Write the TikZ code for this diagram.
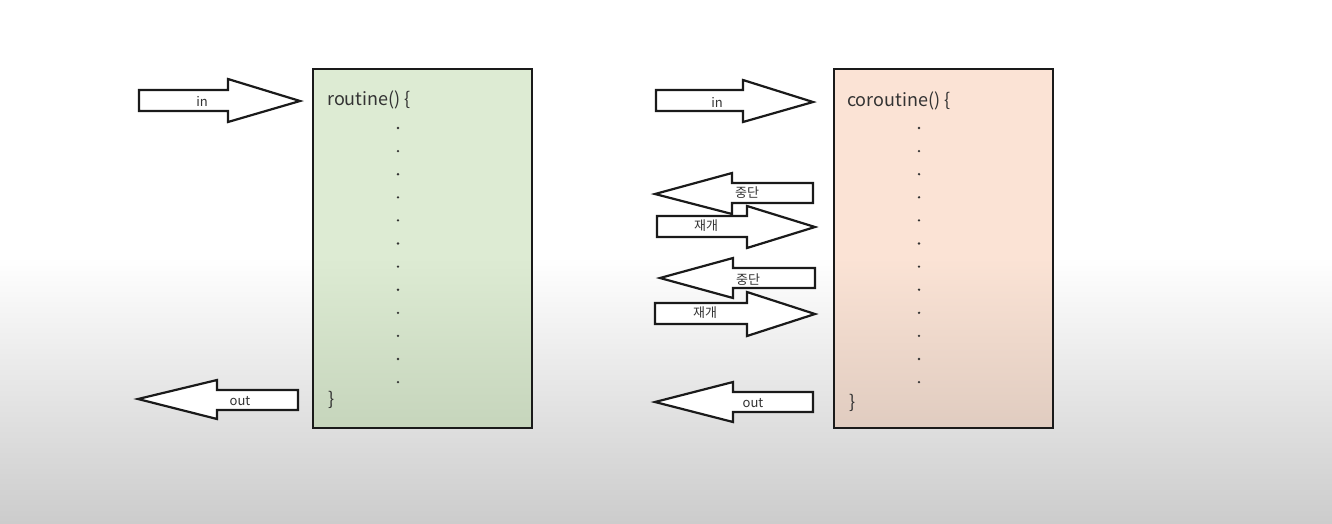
\documentclass[tikz,border=0pt]{standalone}
\usepackage{fontspec}
\setmainfont{Noto Sans CJK KR}
\definecolor{bgbot}{HTML}{CCCCCC}
\definecolor{gtop}{HTML}{DDEBD3}
\definecolor{gbot}{HTML}{C6D5BC}
\definecolor{ptop}{HTML}{FBE3D5}
\definecolor{pbot}{HTML}{E0CCC0}
\definecolor{txt}{HTML}{333333}
\definecolor{edge}{HTML}{1A1A1A}
\pgfdeclareverticalshading{bgshade}{100bp}{color(0bp)=(bgbot); color(25bp)=(bgbot); color(50.4bp)=(white); color(100bp)=(white)}
\pgfdeclareverticalshading{gshade}{100bp}{color(0bp)=(gbot); color(25bp)=(gbot); color(48.8bp)=(gtop); color(100bp)=(gtop)}
\pgfdeclareverticalshading{pshade}{100bp}{color(0bp)=(pbot); color(25bp)=(pbot); color(48.8bp)=(ptop); color(100bp)=(ptop)}
\tikzset{
  blockarrow/.style={draw=edge, line width=2.2pt, fill=white, line join=miter},
  codebox/.style={draw=edge, line width=1.8pt},
  lbl/.style={font=\fontsize{13}{15}\selectfont, text=txt, inner sep=0pt},
  codetxt/.style={font=\fontsize{18}{21}\selectfont, text=txt, inner sep=0pt, anchor=west},
  dotmark/.style={fill=txt, circle, inner sep=0pt, minimum size=2.6pt},
}
\begin{document}
\begin{tikzpicture}[x=1pt,y=-1pt]
\path[shading=bgshade] (0,0) rectangle (1332,523);
\useasboundingbox (0,0) rectangle (1332,523);
% boxes
\path[shading=gshade] (313,69) rectangle (532,428);
\draw[codebox] (313,69) rectangle (532,428);
\path[shading=pshade] (834,69) rectangle (1053,428);
\draw[codebox] (834,69) rectangle (1053,428);
\node[codetxt] (r1) at (327,100) {routine() \{};
\node[codetxt] (r2) at (328,400) {\}};
\node[codetxt] (c1) at (847,101) {coroutine() \{};
\node[codetxt] (c2) at (849,403) {\}};
\foreach \k in {0,...,11} {
  \node[dotmark] (ld\k) at (398,{128+23.1*\k}) {};
  \node[dotmark] (rd\k) at (919,{128+23.1*\k}) {};
}
% left arrows
\draw[blockarrow] (139,90) -- (228,90) -- (228,79) -- (300,101) -- (228,122) -- (228,111) -- (139,111) -- cycle;
\node[lbl] (lin) at (202,101) {in};
\draw[blockarrow] (298,390) -- (217,390) -- (217,380) -- (138,399) -- (217,419) -- (217,410) -- (298,410) -- cycle;
\node[lbl] (lout) at (240,401) {out};
% right arrows
\draw[blockarrow] (656,90) -- (743,90) -- (743,80) -- (813,102) -- (743,122) -- (743,111) -- (656,111) -- cycle;
\node[lbl] (rin) at (717,102) {in};
\draw[blockarrow] (813,183) -- (732,183) -- (732,173) -- (655,194) -- (732,214) -- (732,203) -- (813,203) -- cycle;
\node[lbl] (stop1) at (747,193) {중단};
\draw[blockarrow] (657,216) -- (747,216) -- (747,206) -- (815,227) -- (747,248) -- (747,237) -- (657,237) -- cycle;
\node[lbl] (res1) at (706,226) {재개};
\draw[blockarrow] (815,268) -- (733,268) -- (733,258) -- (660,278) -- (733,298) -- (733,288) -- (815,288) -- cycle;
\node[lbl] (stop2) at (748,280) {중단};
\draw[blockarrow] (655,303) -- (747,303) -- (747,292) -- (815,314) -- (747,336) -- (747,324) -- (655,324) -- cycle;
\node[lbl] (res2) at (705,313) {재개};
\draw[blockarrow] (813,392) -- (733,392) -- (733,382) -- (655,402) -- (733,422) -- (733,412) -- (813,412) -- cycle;
\node[lbl] (rout) at (753,403) {out};
\end{tikzpicture}
\end{document}
